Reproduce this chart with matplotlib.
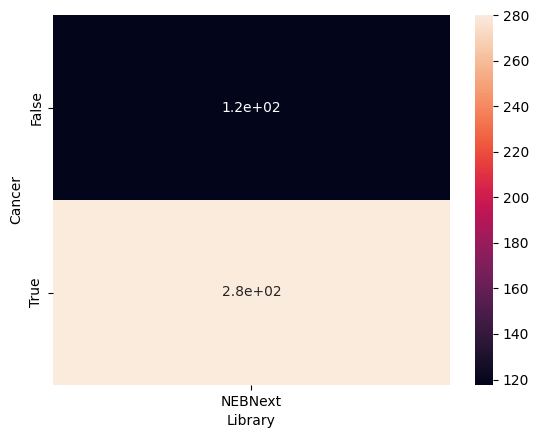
import numpy as np
import pandas as pd
import seaborn as sns
import matplotlib.pyplot as plt

cancer = ["False", "True"]
library = ["NEBNext"]
counts = [[117.6], [280.0]]

df = pd.DataFrame(counts, index=pd.Index(cancer, name="Cancer"),
                  columns=pd.Index(library, name="Library"))

fig = plt.figure(figsize=(5.39, 4.38), dpi=100)
ax = fig.add_axes([53 / 539, 1 - 385 / 438, (450 - 53) / 539, (385 - 15) / 438])
cax = fig.add_axes([475 / 539, 1 - 385 / 438, (493 - 475) / 539, (385 - 15) / 438])
sns.heatmap(df, annot=True, ax=ax, cbar_ax=cax)
fig.savefig("out.png", dpi=100)
